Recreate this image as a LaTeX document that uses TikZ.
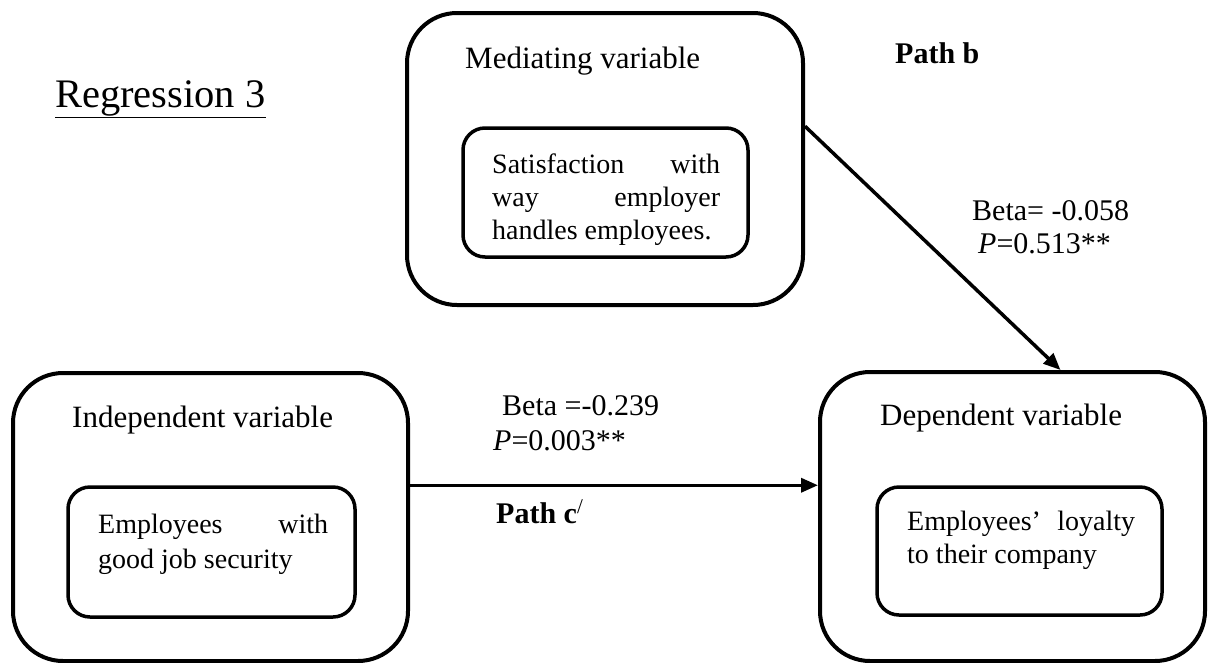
\documentclass[tikz,border=0pt]{standalone}
\usepackage{fontspec}
\usepackage{graphicx}
\setmainfont{Liberation Serif}
\usetikzlibrary{arrows.meta,calc}

\tikzset{
  outerbox/.style={draw, line width=4pt, rounded corners=50pt, inner sep=0pt},
  innerbox/.style={draw, line width=3.5pt, rounded corners=22pt, inner sep=0pt},
  lbl/.style={anchor=base west, inner sep=0pt, font=\fontsize{30}{34}\selectfont},
  varlbl/.style={lbl, font=\fontsize{31}{35}\selectfont},
  boxtxt/.style={lbl, font=\fontsize{28}{33}\selectfont},
}

\begin{document}
\begin{tikzpicture}[x=1pt,y=-1pt,>={Triangle[length=17pt,width=14pt]}]
  \useasboundingbox (0,0) rectangle (1210,662);
  % Title
  \node[lbl, font=\fontsize{40.5}{46}\selectfont] (title) at (55,107) {\underline{Regression 3}};
  % Mediating variable
  \node[outerbox, minimum width=396pt, minimum height=292pt] (med) at (605,159) {};
  \node[innerbox, minimum width=285pt, minimum height=129pt] (sat) at (605.5,192.5) {};
  \node[varlbl] (medlbl) at (465,68) {Mediating variable};
  \node[boxtxt] (sattxt) at (492,173) {\parbox[t]{228pt}{Satisfaction\hfill with\\way\hfill employer\\handles employees.}};
  % Independent variable
  \node[outerbox, minimum width=395pt, minimum height=288pt] (indep) at (210.5,517) {};
  \node[innerbox, minimum width=287pt, minimum height=130pt] (secur) at (211.5,552) {};
  \node[varlbl] (indeplbl) at (72,427) {Independent variable};
  \node[boxtxt] (securtxt) at (98,533) {\parbox[t]{230pt}{Employees\hfill with\\[2pt]good job security}};
  % Dependent variable
  \node[outerbox, minimum width=385pt, minimum height=289pt] (dep) at (1012.5,516.5) {};
  \node[innerbox, minimum width=285pt, minimum height=128pt] (loyal) at (1019.5,551) {};
  \node[varlbl] (deplbl) at (880,425) {Dependent variable};
  \node[boxtxt] (loyaltxt) at (907,530) {\parbox[t]{228pt}{Employees’\hfill loyalty\\to their company}};
  % Paths
  \draw[->, line width=3.5pt] (indep.east |- secur.north) -- (dep.west |- secur.north);
  \draw[->, line width=3.5pt] (med.east |- sat.north) -- ([xshift=48pt]dep.north);
  % Path labels
  \node[lbl] (pathb) at (895,63) {\textbf{Path b}};
  \node[lbl] (betab) at (972,220) {Beta= -0.058};
  \node[lbl] (pb) at (978,253) {\textit{P}=0.513**};
  \node[lbl] (betac) at (502,415) {Beta =-0.239};
  \node[lbl] (pc) at (493,450) {\textit{P}=0.003**};
  \node[lbl] (pathc) at (496,523) {\textbf{Path c}\textsuperscript{/}};
\end{tikzpicture}
\end{document}
